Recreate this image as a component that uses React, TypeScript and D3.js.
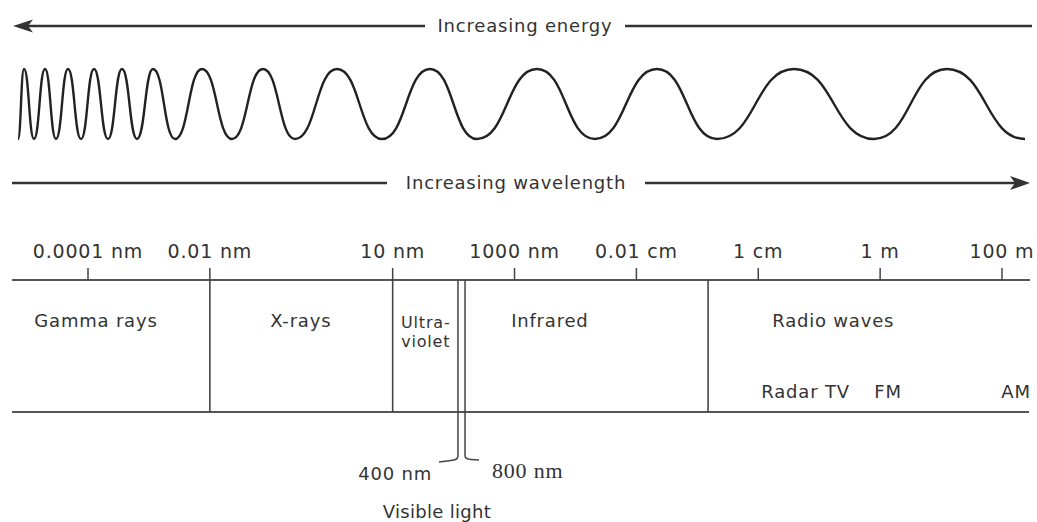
import * as d3 from "d3";
import { useEffect, useRef } from "react";

// ---- data (wavelengths in metres) ----
const tickLabels = ["0.0001 nm", "0.01 nm", "10 nm", "1000 nm", "0.01 cm", "1 cm", "1 m", "100 m"];
const tickValues = [1e-13, 1e-11, 1e-8, 1e-6, 1e-4, 1e-2, 1, 100];

const bandNames = ["Gamma rays", "X-rays", "Ultra-|violet", "Infrared", "Radio waves"];
const bandCenters = [1.35e-13, 3.1e-10, 3.5e-8, 3.8e-6, 0.17];
const bandEdges = [1e-11, 1e-8, 1.5e-3];

const visibleEdges = [1.18e-7, 1.54e-7];
const visibleLabels = ["400 nm", "800 nm"];

const radioNames = ["Radar", "TV", "FM", "AM"];
const radioCenters = [0.033, 0.2, 1.35, 170];

// wave extrema (horizontal positions on the drawing)
const wavePeaks = [24, 45, 68, 94, 122, 153, 202, 263, 337, 430, 537, 657, 794, 947];
const waveTroughs = [18, 34, 56, 81, 108, 137, 175, 232, 295, 382, 477, 595, 717, 874, 1025];

export default function App() {
    const ref = useRef<SVGSVGElement | null>(null);

    useEffect(() => {
        const width = 1037;
        const height = 522;
        const svg = d3.select(ref.current).attr("viewBox", `0 0 ${width} ${height}`);
        svg.selectAll("*").remove();

        const ink = "#333";
        const axisY = 280;
        const baseY = 412;

        // ---- scales ----
        const x = d3.scaleLog().domain([1e-13, 100]).range([88, 1002]);
        const px = d3.scaleLinear().domain([0, width]).range([0, width]);
        const wy = d3.scaleLinear().domain([-1, 1]).range([139, 69]);

        // ---- energy arrow (top) ----
        const topY = 26;
        svg.append("line").attr("x1", 20).attr("x2", 425).attr("y1", topY).attr("y2", topY)
            .attr("stroke", ink).attr("stroke-width", 2.5);
        svg.append("line").attr("x1", 625).attr("x2", 1032).attr("y1", topY).attr("y2", topY)
            .attr("stroke", ink).attr("stroke-width", 2.5);
        svg.append("path")
            .attr("d", `M13,${topY} L33,${topY - 6.5} L28,${topY} L33,${topY + 6.5} Z`)
            .attr("fill", ink);
        svg.append("text")
            .attr("x", 525).attr("y", topY + 6)
            .attr("text-anchor", "middle")
            .text("Increasing energy");

        // ---- wave ----
        const pts: [number, number][] = [
            ...wavePeaks.map((d) => [d, 1] as [number, number]),
            ...waveTroughs.map((d) => [d, -1] as [number, number]),
        ].sort((a, b) => a[0] - b[0]);

        const wave = d3.line<[number, number]>()
            .x((d) => px(d[0]))
            .y((d) => wy(d[1]))
            .curve(d3.curveBumpX);

        svg.append("path")
            .datum(pts)
            .attr("d", wave)
            .attr("fill", "none")
            .attr("stroke", "#222")
            .attr("stroke-width", 2.4);

        // ---- wavelength arrow ----
        const midY = 183;
        svg.append("line").attr("x1", 12).attr("x2", 387).attr("y1", midY).attr("y2", midY)
            .attr("stroke", ink).attr("stroke-width", 2.5);
        svg.append("line").attr("x1", 645).attr("x2", 1022).attr("y1", midY).attr("y2", midY)
            .attr("stroke", ink).attr("stroke-width", 2.5);
        svg.append("path")
            .attr("d", `M1030,${midY} L1010,${midY - 7} L1015,${midY} L1010,${midY + 7} Z`)
            .attr("fill", ink);
        svg.append("text")
            .attr("x", 516).attr("y", midY + 6)
            .attr("text-anchor", "middle")
            .text("Increasing wavelength");

        // ---- scale lines ----
        svg.append("line").attr("x1", 12).attr("x2", 1030).attr("y1", axisY).attr("y2", axisY)
            .attr("stroke", "#555").attr("stroke-width", 2);
        svg.append("line").attr("x1", 12).attr("x2", 1029).attr("y1", baseY).attr("y2", baseY)
            .attr("stroke", "#555").attr("stroke-width", 2);

        // ticks + labels
        const tg = svg.append("g");
        tg.selectAll("line")
            .data(tickValues)
            .join("line")
            .attr("x1", (d) => x(d)).attr("x2", (d) => x(d))
            .attr("y1", axisY - 12).attr("y2", axisY)
            .attr("stroke", "#444").attr("stroke-width", 1.5);
        tg.selectAll("text")
            .data(tickValues)
            .join("text")
            .attr("x", (d) => x(d))
            .attr("y", 258)
            .attr("text-anchor", "middle")
            .attr("font-size", 19)
            .text((_, i) => tickLabels[i]);

        // band separators
        svg.append("g").selectAll("line")
            .data(bandEdges)
            .join("line")
            .attr("x1", (d) => x(d)).attr("x2", (d) => x(d))
            .attr("y1", axisY).attr("y2", baseY)
            .attr("stroke", "#444").attr("stroke-width", 1.6);

        // band names
        const bg = svg.append("g");
        bandNames.forEach((name, i) => {
            const parts = name.split("|");
            const t = bg.append("text")
                .attr("x", x(bandCenters[i]))
                .attr("y", parts.length > 1 ? 328 : 327)
                .attr("text-anchor", "middle")
                .attr("font-size", parts.length > 1 ? 16 : 18);
            parts.forEach((p, j) => {
                t.append("tspan").attr("x", x(bandCenters[i])).attr("dy", j === 0 ? 0 : 19).text(p);
            });
        });

        // radio sub-bands
        svg.append("g").selectAll("text")
            .data(radioCenters)
            .join("text")
            .attr("x", (d) => x(d))
            .attr("y", 398)
            .attr("text-anchor", "middle")
            .text((_, i) => radioNames[i]);

        // ---- visible light bracket ----
        const [v0, v1] = visibleEdges.map((d) => x(d));
        const bracketY = 456;
        const vg = svg.append("g").attr("fill", "none").attr("stroke", "#444").attr("stroke-width", 1.5);
        const p0 = d3.path();
        p0.moveTo(v0, axisY);
        p0.lineTo(v0, bracketY);
        p0.quadraticCurveTo(v0, bracketY + 4, v0 - 7, bracketY + 4.5);
        p0.lineTo(v0 - 19, bracketY + 6);
        vg.append("path").attr("d", p0.toString());
        const p1 = d3.path();
        p1.moveTo(v1, axisY);
        p1.lineTo(v1, bracketY);
        p1.quadraticCurveTo(v1, bracketY + 3, v1 + 6, bracketY + 3.5);
        p1.lineTo(v1 + 14, bracketY + 4);
        vg.append("path").attr("d", p1.toString());

        svg.append("text")
            .attr("x", v0 - 26).attr("y", 480)
            .attr("text-anchor", "end")
            .text(visibleLabels[0]);
        svg.append("text")
            .attr("x", v1 + 27).attr("y", 478)
            .attr("font-family", "'Liberation Serif', 'Times New Roman', serif")
            .attr("font-size", 22)
            .attr("letter-spacing", 0.8)
            .text(visibleLabels[1]);
        svg.append("text")
            .attr("x", 437).attr("y", 518)
            .attr("text-anchor", "middle")
            .attr("letter-spacing", 0.3)
            .text("Visible light");
    }, []);

    return (
        <svg
            ref={ref}
            width={1037}
            height={522}
            style={{ position: "absolute", left: 0, top: 0, background: "#fff" }}
            fontFamily="'DejaVu Sans', sans-serif"
            fontSize={18}
            fill="#333"
            letterSpacing={0.8}
        />
    );
}
